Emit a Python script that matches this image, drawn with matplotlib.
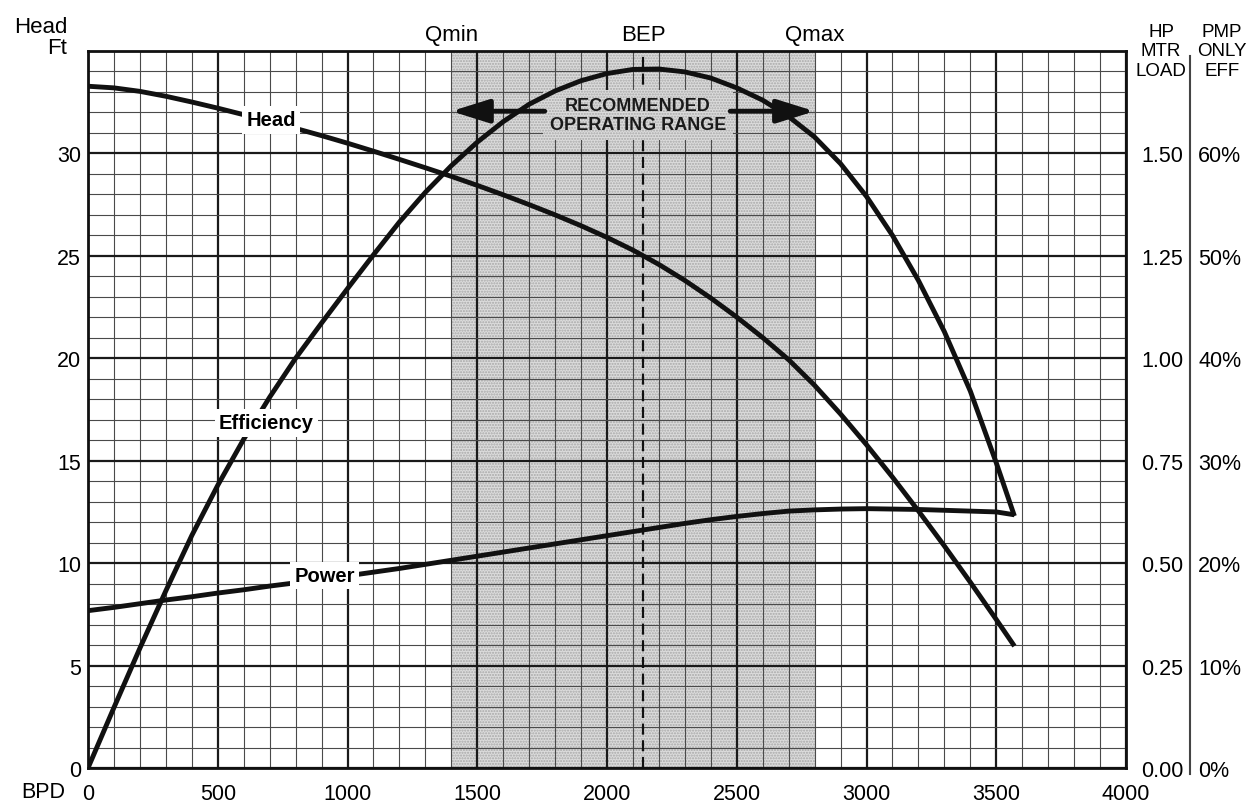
import matplotlib
matplotlib.use("Agg")
import matplotlib.pyplot as plt
import matplotlib.transforms as mtransforms
from matplotlib.ticker import MultipleLocator, FixedLocator, FuncFormatter

plt.rcParams['font.family'] = ['Liberation Sans', 'DejaVu Sans']

# ---- pump performance data -------------------------------------------------
flow_bpd = [0, 100, 200, 300, 400, 500, 600, 700, 800, 900, 1000, 1100, 1200,
            1300, 1400, 1500, 1600, 1700, 1800, 1900, 2000, 2100, 2200, 2300,
            2400, 2500, 2600, 2700, 2800, 2900, 3000, 3100, 3200, 3300, 3400,
            3500, 3570]

head_ft = [33.28, 33.2, 33.03, 32.79, 32.51, 32.21, 31.89, 31.56, 31.22,
           30.87, 30.5, 30.11, 29.71, 29.3, 28.88, 28.44, 27.98, 27.5, 27.0,
           26.47, 25.9, 25.28, 24.58, 23.8, 22.94, 22.01, 21.01, 19.93, 18.68,
           17.28, 15.78, 14.2, 12.55, 10.84, 9.07, 7.25, 5.95]

eff_pct = [0.0, 5.9, 11.7, 17.3, 22.7, 27.6, 32.1, 36.2, 40.0, 43.44, 46.8,
           50.1, 53.3, 56.2, 58.8, 61.1, 63.1, 64.8, 66.1, 67.1, 67.8, 68.2,
           68.24, 67.96, 67.36, 66.4, 65.2, 63.6, 61.6, 59.0, 55.8, 52.0,
           47.6, 42.6, 36.8, 29.8, 24.6]

power_hp = [0.384, 0.392, 0.401, 0.410, 0.418, 0.427, 0.435, 0.444, 0.452,
            0.460, 0.469, 0.478, 0.487, 0.497, 0.507, 0.517, 0.527, 0.537,
            0.547, 0.557, 0.567, 0.577, 0.587, 0.597, 0.606, 0.614, 0.621,
            0.627, 0.630, 0.632, 0.633, 0.632, 0.631, 0.629, 0.627, 0.625,
            0.618]

q_min, q_bep, q_max = 1400, 2140, 2800

x_ticks = [0, 500, 1000, 1500, 2000, 2500, 3000, 3500, 4000]
head_ticks = [0, 5, 10, 15, 20, 25, 30]
hp_ticks = [0.00, 0.25, 0.50, 0.75, 1.00, 1.25, 1.50]
eff_ticks = [0, 10, 20, 30, 40, 50, 60]

# ---- figure ----------------------------------------------------------------
W, H = 1248, 804
fig = plt.figure(figsize=(W / 100, H / 100), dpi=100)
L, R, T, B = 88, 1126, 52, 769
ax = fig.add_axes([L / W, 1 - B / H, (R - L) / W, (B - T) / H])

ax.set_xlim(0, 4000)
ax.set_ylim(0, 35)

ax.xaxis.set_major_locator(FixedLocator(x_ticks))
ax.yaxis.set_major_locator(FixedLocator(head_ticks))
ax.xaxis.set_minor_locator(MultipleLocator(100))
ax.yaxis.set_minor_locator(MultipleLocator(1))
ax.tick_params(which='both', length=0)
ax.tick_params(axis='x', labelsize=15.5, pad=11)
ax.tick_params(axis='y', labelsize=15.5, pad=5)

ax.set_axisbelow(True)
ax.grid(which='minor', color='#4a4a4a', lw=0.8)
ax.grid(which='major', color='#1a1a1a', lw=1.6)
for s in ax.spines.values():
    s.set_linewidth(2.0)
    s.set_color('#111111')

# recommended operating range shading
shade = '#dcdcdc'
stipple = dict(facecolor=shade, edgecolor='#a8a8a8', hatch='......', lw=0)
ax.axvspan(q_min, q_max, zorder=0.1, **stipple)
ax.axvline(q_bep, color='#111111', lw=1.6, ls=(0, (5, 2.5)), zorder=3)

curve_kw = dict(color='#111111', lw=3.5, solid_capstyle='butt',
                solid_joinstyle='round', zorder=4)
ax.plot(flow_bpd, head_ft, **curve_kw)

ax_hp = ax.twinx()
ax_hp.set_ylim(0, 35 / 20)
ax_hp.plot(flow_bpd, power_hp, **curve_kw)

ax_eff = ax.twinx()
ax_eff.set_ylim(0, 70)
ax_eff.plot(flow_bpd, eff_pct, **curve_kw)

for tw in (ax_hp, ax_eff):
    for side in ('left', 'top', 'bottom'):
        tw.spines[side].set_visible(False)
    tw.tick_params(which='both', length=0, labelsize=15.5)

ax_hp.spines['right'].set_visible(False)
ax_hp.yaxis.set_major_locator(FixedLocator(hp_ticks))
ax_hp.yaxis.set_major_formatter(FuncFormatter(lambda v, p: f"{v:.2f}"))
ax_hp.tick_params(axis='y', pad=11)

sep_x = (1190 - L) / (R - L)
ax_eff.spines['right'].set_position(('axes', sep_x))
ax_eff.spines['right'].set_color('#444444')
ax_eff.spines['right'].set_linewidth(1.5)
ax_eff.spines['right'].set_bounds(-0.6, 69.5)
ax_eff.yaxis.set_major_locator(FixedLocator(eff_ticks))
ax_eff.yaxis.set_major_formatter(FuncFormatter(lambda v, p: f"{v:.0f}%"))
ax_eff.tick_params(axis='y', pad=6)

# curve labels
lab_box = dict(facecolor='white', edgecolor='none', pad=3)
ax.text(707, 31.64, 'Head', fontsize=14.5, fontweight='bold', ha='center',
        va='center', bbox=lab_box, zorder=5)
ax_eff.text(688, 33.7, 'Efficiency', fontsize=14.5, fontweight='bold',
            ha='center', va='center', bbox=lab_box, zorder=5)
ax_hp.text(913, 0.47, 'Power', fontsize=14.5, fontweight='bold', ha='center',
           va='center', bbox=lab_box, zorder=5)

# operating range annotation
ax.text(2119, 31.86, 'RECOMMENDED\nOPERATING RANGE', fontsize=13,
        fontweight='bold', ha='center', va='center', linespacing=1.15,
        color='#1a1a1a', bbox=dict(pad=5, **stipple), zorder=3.5)
arrow_kw = dict(arrowstyle='-|>,head_length=1.15,head_width=0.36',
                lw=3.5, color='#111111', mutation_scale=20,
                shrinkA=0, shrinkB=0)
ax.annotate('', xy=(q_min, 32.06), xytext=(1760, 32.06),
            arrowprops=arrow_kw, zorder=3.6)
ax.annotate('', xy=(q_max, 32.06), xytext=(2475, 32.06),
            arrowprops=arrow_kw, zorder=3.6)

top = mtransforms.blended_transform_factory(ax.transData, ax.transAxes)
for xv, name in [(q_min, 'Qmin'), (q_bep, 'BEP'), (q_max, 'Qmax')]:
    ax.text(xv, 1.0237, name, transform=top, fontsize=16, ha='center',
            va='center')

# axis titles
fig.text(67 / W, 1 - 38 / H, 'Head\nFt', fontsize=16, ha='right', va='center',
         multialignment='right', linespacing=1.05)
fig.text(43 / W, 1 - 793 / H, 'BPD', fontsize=15.5, ha='center', va='center')
fig.text(1161 / W, 1 - 52 / H, 'HP\nMTR\nLOAD', fontsize=13.5, ha='center',
         va='center', linespacing=1.2)
fig.text(1222 / W, 1 - 52 / H, 'PMP\nONLY\nEFF', fontsize=13.5, ha='center',
         va='center', linespacing=1.2)

fig.savefig('out.png', dpi=100)
